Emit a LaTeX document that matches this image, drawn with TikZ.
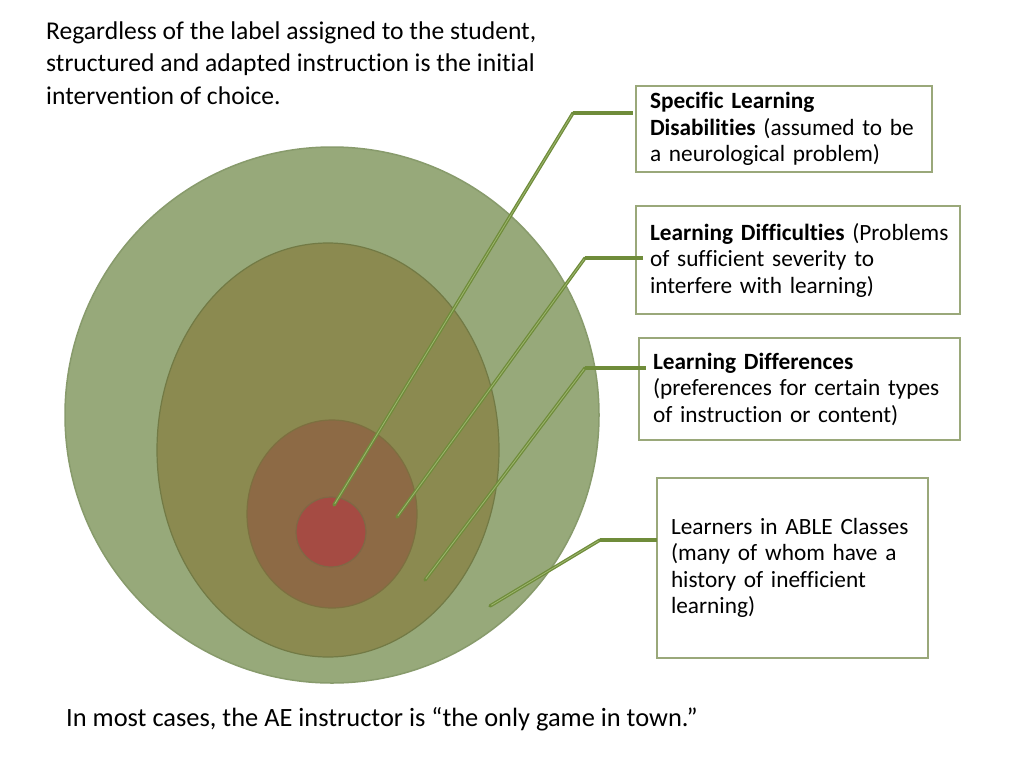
\documentclass[tikz,border=0pt]{standalone}
\usepackage{fontspec}
\setmainfont{Carlito}[Ligatures={NoCommon}]
\definecolor{outerC}{HTML}{97A97A}
\definecolor{outerE}{HTML}{889B6C}
\definecolor{midC}{HTML}{8B8A50}
\definecolor{midE}{HTML}{727A45}
\definecolor{innC}{HTML}{8D6A45}
\definecolor{innE}{HTML}{7D7040}
\definecolor{coreC}{HTML}{A54B43}
\definecolor{coreE}{HTML}{806845}
\definecolor{lineC}{HTML}{6F8C3A}
\definecolor{lineL}{HTML}{9DB66E}
\definecolor{boxE}{HTML}{9AA87A}
\tikzset{
  infobox/.style={draw=boxE, line width=1.2pt, align=left, inner xsep=14pt, inner ysep=0pt,
    font=\fontsize{23.3}{26.5}\selectfont},
  plain/.style={inner sep=0pt, align=left, font=\fontsize{25.6}{32.3}\selectfont},
  leaderH/.style={draw=lineC, line width=4pt},
  leaderD/.style={draw=lineC, line width=3.4pt},
  leaderIn/.style={draw=lineL, line width=0.8pt}
}
\begin{document}
\begin{tikzpicture}[x=1pt,y=-1pt]
\fill[white] (0,0) rectangle (1024,768);
\useasboundingbox (0,0) rectangle (1024,768);

% nested circles
\fill[outerC, draw=outerE, line width=1.5pt] (332,415) ellipse [x radius=267, y radius=268];
\fill[midC, draw=midE, line width=1.2pt] (328,450) ellipse [x radius=171, y radius=207];
\fill[innC, draw=innE, line width=1.2pt] (332,514) ellipse [x radius=85, y radius=94];
\fill[coreC, draw=coreE, line width=1.2pt] (331,532) ellipse [x radius=35, y radius=35];

% texts
\node[plain, anchor=north west] (top) at (46,21.5) {Regardless of the label assigned to the student,\\structured and adapted instruction is the initial\\intervention of choice.};
\node[plain, anchor=base west, font=\fontsize{26.4}{32}\selectfont] (bottom) at (66,726) {In most cases, the AE instructor is “the only game in town.”};

% boxes
\node[infobox, text width=268pt, minimum width=296pt, minimum height=86pt] (b1) at (784,129)
  {\textbf{Specific Learning}\\\textbf{Disabilities} (assumed to be\\a neurological problem)};
\node[infobox, text width=296pt, minimum width=324pt, minimum height=108pt] (b2) at (798,260)
  {\mbox{\textbf{Learning Difficulties} (Problems}\\of sufficient severity to\\interfere with learning)};
\node[infobox, text width=293pt, minimum width=321pt, minimum height=102pt] (b3) at (799.5,389)
  {\textbf{Learning Differences}\\(preferences for certain types\\of instruction or content)};
\node[infobox, text width=243pt, minimum width=271pt, minimum height=180pt] (b4) at (792.5,568)
  {Learners in ABLE Classes\\(many of whom have a\\history of inefficient\\learning)};

% leader points
\coordinate (p1) at (334,505);
\coordinate (e1) at (573,113);
\coordinate (p2) at (397,517);
\coordinate (e2) at (585,258);
\coordinate (p3) at (425,580);
\coordinate (e3) at (585,368);
\coordinate (p4) at (490,606);
\coordinate (e4) at (600,540);

\foreach \i/\dx in {1/-2,2/8,3/8,4/1}{
  \draw[leaderH] (e\i) -- ([xshift=\dx pt]b\i.west |- e\i);
  \draw[leaderD, line cap=round] (p\i) -- (e\i);
  \draw[leaderIn, shorten <=1.5pt, shorten >=1.5pt] (p\i) -- (e\i);
}
\end{tikzpicture}
\end{document}
